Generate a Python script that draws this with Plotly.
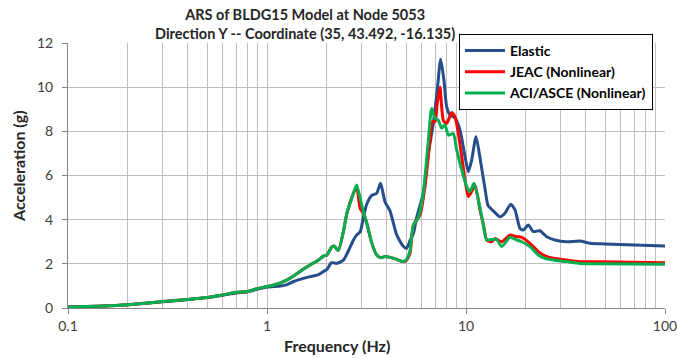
import plotly.graph_objects as go

# ---- data ----
freq_elastic = [0.1, 0.15, 0.2, 0.3, 0.4, 0.5, 0.6, 0.7, 0.8, 0.9, 1.0, 1.17, 1.26, 1.36, 1.52, 1.645,
                1.8, 1.92, 2.0, 2.11, 2.24, 2.42, 2.6, 2.72, 2.82, 2.94, 3.05, 3.17, 3.36, 3.56, 3.72,
                3.92, 4.15, 4.49, 4.84, 5.03, 5.23, 5.45, 5.65, 6.1, 6.47, 6.85, 7.17, 7.46, 7.75, 8.0,
                8.31, 8.8, 9.33, 9.89, 10.27, 10.68, 11.23, 11.76, 12.46, 12.9, 13.7, 14.82, 15.7,
                16.77, 17.63, 18.68, 19.41, 20.57, 21.79, 23.5, 25.44, 28.0, 32.0, 37.4, 42.0, 50.0,
                70.0, 100.0]
acc_elastic = [0.05, 0.09, 0.15, 0.28, 0.38, 0.47, 0.58, 0.68, 0.74, 0.86, 0.95, 1.0, 1.06, 1.2, 1.34, 1.42,
               1.5, 1.65, 1.75, 2.05, 2.02, 2.17, 2.7, 3.08, 3.3, 3.45, 4.1, 4.7, 5.1, 5.2, 5.65,
               4.8, 4.4, 3.3, 2.8, 2.7, 3.05, 3.4, 4.1, 5.2, 7.0, 8.36, 9.87, 11.26, 10.3, 9.1,
               8.74, 8.6, 8.06, 6.85, 6.17, 6.7, 7.76, 6.8, 5.4, 4.65, 4.4, 4.13, 4.29,
               4.7, 4.44, 3.6, 3.53, 3.76, 3.46, 3.5, 3.23, 3.08, 3.0, 3.03, 2.93, 2.9,
               2.85, 2.81]

freq_jeac = [0.1, 0.15, 0.2, 0.3, 0.4, 0.5, 0.6, 0.7, 0.8, 0.9, 1.0, 1.14, 1.26, 1.36, 1.52, 1.645,
             1.8, 1.92, 2.0, 2.11, 2.18, 2.28, 2.42, 2.52, 2.72, 2.82, 2.94, 3.05, 3.17, 3.36, 3.56,
             3.72, 3.92, 4.2, 4.49, 4.84, 5.03, 5.23, 5.44, 5.87, 6.22, 6.59, 6.77, 6.99, 7.17, 7.4,
             7.69, 8.0, 8.48, 8.81, 9.15, 9.52, 9.89, 10.27, 10.68, 11.1, 11.76, 12.21, 12.71, 13.46,
             13.98, 15.11, 16.64, 17.98, 19.05, 20.97, 23.09, 24.95, 27.46, 32.07, 37.41, 47.0, 100.0]
acc_jeac = [0.05, 0.09, 0.15, 0.29, 0.39, 0.48, 0.59, 0.71, 0.75, 0.89, 0.97, 1.1, 1.27, 1.45, 1.75, 1.95,
            2.15, 2.35, 2.4, 2.75, 2.8, 2.6, 3.46, 4.29, 5.2, 5.5, 4.5, 4.3, 3.85, 2.95, 2.4,
            2.28, 2.33, 2.28, 2.2, 2.1, 2.17, 2.48, 3.76, 4.2, 5.5, 7.6, 8.44, 8.44, 9.27, 10.0,
            8.5, 8.36, 8.85, 8.66, 7.9, 6.85, 5.8, 5.04, 5.27, 5.57, 4.44, 3.8, 3.08, 3.0,
            3.15, 3.0, 3.3, 3.23, 3.2, 2.93, 2.55, 2.36, 2.25, 2.17, 2.1, 2.1, 2.05]

freq_aci = [0.1, 0.15, 0.2, 0.3, 0.4, 0.5, 0.6, 0.7, 0.8, 0.9, 1.0, 1.14, 1.26, 1.36, 1.52, 1.645,
            1.8, 1.92, 2.0, 2.11, 2.18, 2.28, 2.42, 2.52, 2.72, 2.82, 2.94, 3.05, 3.17, 3.36, 3.56,
            3.72, 3.92, 4.2, 4.49, 4.84, 5.03, 5.23, 5.44, 5.76, 6.1, 6.47, 6.72, 6.99, 7.26, 7.55,
            7.84, 8.15, 8.63, 8.98, 9.52, 10.08, 10.47, 10.97, 11.53, 12.13, 12.71, 13.46, 14.26,
            15.11, 16.64, 17.98, 19.05, 20.97, 23.09, 24.95, 27.46, 32.07, 37.41, 47.0, 100.0]
acc_aci = [0.05, 0.09, 0.15, 0.29, 0.39, 0.48, 0.59, 0.71, 0.75, 0.89, 0.97, 1.1, 1.27, 1.45, 1.75, 1.95,
           2.15, 2.35, 2.4, 2.75, 2.8, 2.6, 3.46, 4.29, 5.2, 5.57, 4.97, 4.36, 3.85, 2.95, 2.4,
           2.28, 2.33, 2.28, 2.2, 2.1, 2.2, 2.6, 3.75, 4.1, 5.2, 7.6, 9.04, 8.6, 8.5, 8.14,
           8.3, 7.83, 7.9, 7.16, 6.25, 5.5, 5.27, 5.65, 4.9, 3.92, 3.08, 3.1, 3.1,
           2.78, 3.2, 3.08, 3.0, 2.78, 2.4, 2.25, 2.17, 2.1, 2.02, 2.0, 1.98]

series_names = ["Elastic", "JEAC (Nonlinear)", "ACI/ASCE (Nonlinear)"]
series_colors = ["#254E8C", "#FF0000", "#00B050"]

x_tick_vals = [0.1, 1, 10, 100]
x_tick_text = ["0.1", "1", "10", "100"]
x_minor_vals = [m * d for d in (0.1, 1, 10) for m in range(2, 10)]
y_tick_vals = [0, 2, 4, 6, 8, 10, 12]

title_line1 = "ARS of BLDG15 Model at Node 5053"
title_line2 = "Direction Y -- Coordinate (35, 43.492, -16.135)"
x_title = "Frequency (Hz)"
y_title = "Acceleration (g)"

FONT = "Lato, Open Sans, sans-serif"
L, R, T, B = 68, 665, 43, 308
PW, PH = R - L, B - T

fig = go.Figure()
for i, (fx, fy) in enumerate([(freq_elastic, acc_elastic), (freq_jeac, acc_jeac), (freq_aci, acc_aci)]):
    fig.add_trace(go.Scatter(
        x=fx, y=fy, mode="lines", name=series_names[i],
        line=dict(color=series_colors[i], width=3, shape="spline", smoothing=0.6),
        legendgroup=str(i),
    ))

fig.update_layout(
    width=677, height=358,
    margin=dict(l=L, r=677 - R, t=T, b=358 - B),
    paper_bgcolor="white", plot_bgcolor="white",
    font=dict(family=FONT, size=13, color="#404040"),
    showlegend=True,
    legend=dict(
        x=(459 - L) / PW, y=1 + (T - 34) / PH, xanchor="left", yanchor="top",
        bgcolor="white", bordercolor="black", borderwidth=1,
        font=dict(family=FONT, size=14, color="black", weight="bold"),
        traceorder="grouped", tracegroupgap=0,
        entrywidth=176, itemwidth=40,
    ),
    xaxis=dict(
        type="log", range=[-1, 2], automargin=False, ticklabeloverflow="allow",
        tickvals=x_tick_vals, ticktext=x_tick_text,
        showgrid=True, gridcolor="#BFBFBF", gridwidth=1,
        minor=dict(tickvals=x_minor_vals, showgrid=True, gridcolor="#BFBFBF", gridwidth=1, ticks=""),
        ticks="outside", ticklen=5, tickcolor="#868686",
        showline=True, linecolor="#868686", linewidth=1,
        zeroline=False, mirror=False,
        tickfont=dict(size=14, color="#404040"),
    ),
    yaxis=dict(
        range=[0, 12], tickvals=y_tick_vals, automargin=False,
        showgrid=True, gridcolor="#BFBFBF", gridwidth=1,
        ticks="outside", ticklen=5, tickcolor="#868686",
        showline=True, linecolor="#868686", linewidth=1,
        zeroline=False,
        tickfont=dict(size=14, color="#404040"),
        ticklabelstandoff=6,
    ),
    annotations=[
        dict(text="<b>" + title_line1 + "</b><br><b>" + title_line2 + "</b>",
             xref="paper", yref="paper", x=(305 - L) / PW, y=1 + (T - 24) / PH,
             xanchor="center", yanchor="middle", showarrow=False,
             font=dict(family=FONT, size=14.5, color="#262626")),
        dict(text="<b>" + x_title + "</b>", xref="paper", yref="paper",
             x=(337 - L) / PW, y=-(345 - B) / PH, xanchor="center", yanchor="middle",
             showarrow=False, font=dict(family=FONT, size=16, color="#262626")),
        dict(text="<b>" + y_title + "</b>", xref="paper", yref="paper",
             x=-(L - 18) / PW, y=(B - 166) / PH, xanchor="center", yanchor="middle",
             textangle=-90, showarrow=False, font=dict(family=FONT, size=16, color="#262626")),
    ],
)

fig.write_html("out.html")
